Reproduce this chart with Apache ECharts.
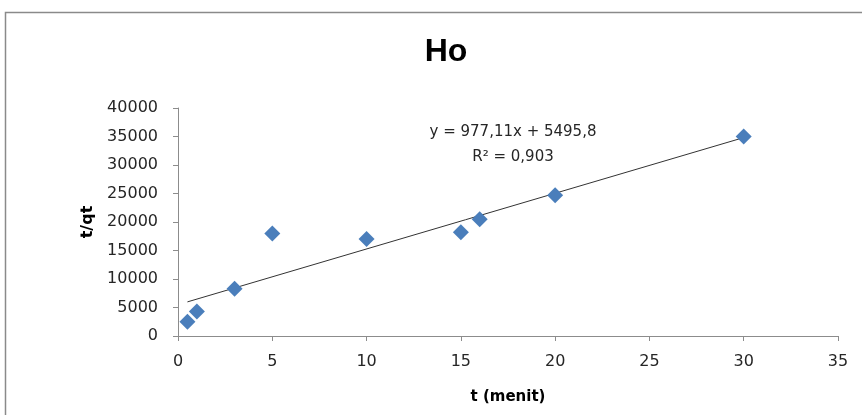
<!DOCTYPE html>
<html>
<head>
<meta charset="utf-8">
<script src="https://cdn.jsdelivr.net/npm/echarts@6/dist/echarts.min.js"></script>
<style>
  html, body { margin: 0; padding: 0; background: #fff; }
  #chart { width: 862px; height: 415px; }
</style>
</head>
<body>
<div id="chart"></div>
<script>
// Measured time (menit) and t/qt values
const timeMenit = [0.5, 1, 3, 5, 10, 15, 16, 20, 30];
const tPerQt = [2500, 4300, 8300, 18000, 17000, 18200, 20500, 24700, 35000];

// Linear trendline y = a*x + b
const slope = 977.11;
const intercept = 5495.8;
const rSquared = '0,903';

const xTicks = [0, 5, 10, 15, 20, 25, 30, 35];
const yTicks = [0, 5000, 10000, 15000, 20000, 25000, 30000, 35000, 40000];

const points = timeMenit.map((t, i) => [t, tPerQt[i]]);
const xMin = Math.min(...timeMenit), xMax = Math.max(...timeMenit);
const trend = [[xMin, slope * xMin + intercept], [xMax, slope * xMax + intercept]];

const fmt = (v) => String(v).replace('.', ',');
const eqText = 'y = ' + fmt(slope) + 'x + ' + fmt(intercept);

const labelFont = '"DejaVu Sans", sans-serif';
const titleFont = '"Liberation Sans", Arial, sans-serif';
const chart = echarts.init(document.getElementById('chart'), null, { renderer: 'canvas' });

chart.setOption({
  backgroundColor: '#ffffff',
  animation: false,
  title: {
    text: 'Ho',
    left: 441, top: 31, textAlign: 'center',
    textStyle: { fontFamily: titleFont, fontWeight: 'bold', fontSize: 32, color: '#000' }
  },
  grid: { left: 178, right: 24, top: 108, bottom: 79 },
  xAxis: {
    type: 'value', min: xTicks[0], max: xTicks[xTicks.length - 1], interval: 5,
    name: 't (menit)', nameLocation: 'middle', nameGap: 54,
    nameTextStyle: { fontFamily: labelFont, fontWeight: 'bold', fontSize: 15, color: '#000' },
    axisLine: { lineStyle: { color: '#8c8c8c', width: 1 } },
    axisTick: { show: true, length: 5, lineStyle: { color: '#8c8c8c' } },
    axisLabel: { fontFamily: labelFont, fontSize: 16, color: '#262626', margin: 18 },
    splitLine: { show: false }
  },
  yAxis: {
    type: 'value', min: yTicks[0], max: yTicks[yTicks.length - 1], interval: 5000,
    name: 't/qt', nameLocation: 'middle', nameGap: 82, nameRotate: 90,
    nameTextStyle: { fontFamily: labelFont, fontWeight: 'bold', fontSize: 16, color: '#000' },
    axisLine: { show: true, lineStyle: { color: '#8c8c8c', width: 1 } },
    axisTick: { show: true, length: 5, lineStyle: { color: '#8c8c8c' } },
    axisLabel: { fontFamily: labelFont, fontSize: 16, color: '#262626', margin: 20,
                 formatter: (v) => String(v) },
    splitLine: { show: false }
  },
  graphic: [
    {
      type: 'rect', silent: true, z: -1,
      shape: { x: 5.5, y: 12.5, width: 900, height: 500 },
      style: { fill: 'none', stroke: '#8a8a8a', lineWidth: 1.5 }
    },
    {
      type: 'text', x: 513, y: 125, silent: true,
      style: { text: eqText, fontFamily: labelFont, fontSize: 15, fill: '#262626', align: 'center' }
    },
    {
      type: 'text', x: 513, y: 150, silent: true,
      style: { text: 'R² = ' + rSquared, fontFamily: labelFont, fontSize: 15, fill: '#262626', align: 'center' }
    }
  ],
  series: [
    {
      type: 'line', data: trend, showSymbol: false, symbol: 'none',
      lineStyle: { color: '#333', width: 1 }, z: 3, silent: true
    },
    {
      type: 'scatter', data: points, symbol: 'diamond', symbolSize: [16, 16],
      itemStyle: { color: '#4A7EBB', opacity: 1 }, z: 4
    }
  ]
});
</script>
</body>
</html>
